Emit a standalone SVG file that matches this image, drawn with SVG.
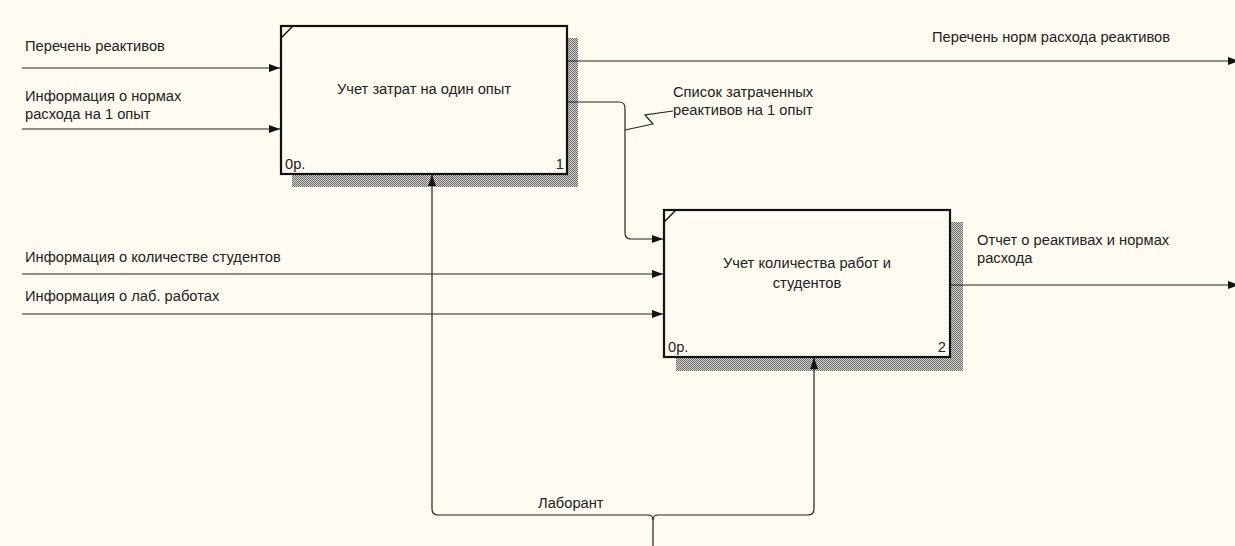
<svg xmlns="http://www.w3.org/2000/svg" width="1235" height="546" viewBox="0 0 1235 546">
  <style>
    .bg { fill: #fffbf1; }
    .box { fill: #fffbf1; stroke: #111; stroke-width: 2.2; }
    .shadow { fill: url(#hatch); }
    .wire { fill: none; stroke: #222; stroke-width: 1.2; }
    .corner { stroke: #111; stroke-width: 1.5; }
    text { font-family: "Liberation Sans", Arial, sans-serif; font-size: 14.7px; fill: #222; }
    .mid { text-anchor: middle; }
    .end { text-anchor: end; }
  </style>
  <defs>
    <pattern id="hatch" width="2" height="2" patternUnits="userSpaceOnUse">
      <rect width="2" height="2" fill="#d8d6d0"/>
      <rect width="1" height="1" fill="#6a6a6a"/>
      <rect x="1" y="1" width="1" height="1" fill="#6a6a6a"/>
    </pattern>
    <marker id="arrow" viewBox="0 0 11 8" refX="11" refY="4" markerWidth="11" markerHeight="8" markerUnits="userSpaceOnUse" orient="auto">
      <path d="M0,0 L11,4 L0,8 Z" fill="#111"/>
    </marker>
  </defs>

  <rect class="bg" width="1235" height="546"/>

  <!-- activity 1 -->
  <g id="node-1">
    <rect class="shadow" x="292" y="38" width="286" height="149"/>
    <rect class="box" x="281" y="26" width="286" height="148"/>
    <line class="corner" x1="281" y1="38" x2="293" y2="26"/>
    <text class="mid" x="424" y="94">Учет затрат на один опыт</text>
    <text x="285" y="169">0р.</text>
    <text class="end" x="564" y="169">1</text>
  </g>

  <!-- activity 2 -->
  <g id="node-2">
    <rect class="shadow" x="676" y="222" width="287" height="149"/>
    <rect class="box" x="664" y="210" width="286" height="147"/>
    <line class="corner" x1="664" y1="222" x2="676" y2="210"/>
    <text class="mid" x="807" y="268">Учет количества работ и</text>
    <text class="mid" x="807" y="288">студентов</text>
    <text x="668" y="352">0р.</text>
    <text class="end" x="946" y="352">2</text>
  </g>

  <!-- connectors -->
  <g id="connectors">
    <!-- inputs to activity 1 -->
    <path class="wire" d="M22,68 H280" marker-end="url(#arrow)"/>
    <path class="wire" d="M22,129 H280" marker-end="url(#arrow)"/>
    <!-- outputs of activity 1 -->
    <path class="wire" d="M568,61 H1239" marker-end="url(#arrow)"/>
    <path class="wire" d="M568,102 H619 Q625,102 625,108 V233 Q625,239 631,239 H663" marker-end="url(#arrow)"/>
    <path class="wire" d="M625,130 L653,124 L645,115 L673,111"/>
    <!-- inputs to activity 2 -->
    <path class="wire" d="M22,274 H663" marker-end="url(#arrow)"/>
    <path class="wire" d="M22,314 H663" marker-end="url(#arrow)"/>
    <!-- output of activity 2 -->
    <path class="wire" d="M951,285 H1239" marker-end="url(#arrow)"/>
    <!-- mechanism: Лаборант -->
    <path class="wire" d="M653,546 V520 Q653,515 648,515 H438 Q432,515 432,509 V175" marker-end="url(#arrow)"/>
    <path class="wire" d="M653,520 Q653,515 658,515 H808 Q814,515 814,509 V358" marker-end="url(#arrow)"/>
  </g>

  <!-- arrow labels -->
  <g id="labels">
    <text x="25" y="51">Перечень реактивов</text>
    <text x="25" y="101">Информация о нормах</text>
    <text x="25" y="119">расхода на 1 опыт</text>
    <text x="932" y="42">Перечень норм расхода реактивов</text>
    <text x="673" y="97">Список затраченных</text>
    <text x="673" y="115">реактивов на 1 опыт</text>
    <text x="25" y="262">Информация о количестве студентов</text>
    <text x="25" y="301">Информация о лаб. работах</text>
    <text x="977" y="245">Отчет о реактивах и нормах</text>
    <text x="977" y="263">расхода</text>
    <text x="538" y="508">Лаборант</text>
  </g>
</svg>
